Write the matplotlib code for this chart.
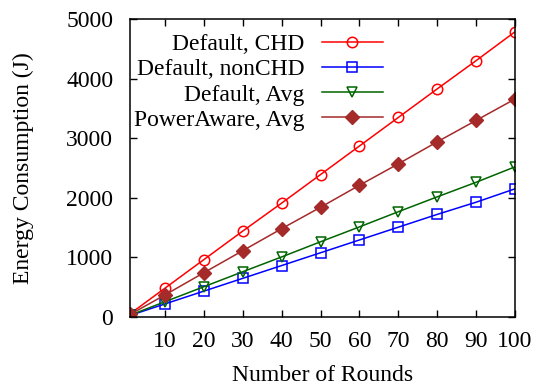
import numpy as np
import matplotlib.pyplot as plt

# Energy consumption vs number of rounds
rounds = [1, 10, 20, 30, 40, 50, 60, 70, 80, 90, 100]
chd = [48, 480, 960, 1440, 1910, 2390, 2870, 3350, 3830, 4305, 4790]
non_chd = [21, 215, 430, 645, 860, 1075, 1290, 1505, 1720, 1925, 2150]
avg = [25, 252, 504, 756, 1005, 1260, 1510, 1765, 2015, 2260, 2520]
power_aware = [37, 366, 740, 1110, 1480, 1840, 2210, 2570, 2940, 3300, 3660]

xticks = [10, 20, 30, 40, 50, 60, 70, 80, 90, 100]
yticks = [0, 1000, 2000, 3000, 4000, 5000]

plt.rcParams['font.family'] = ['Liberation Serif', 'DejaVu Serif']
plt.rcParams['font.size'] = 17

fig = plt.figure(figsize=(5.39, 3.87), dpi=100)
ax = fig.add_axes([130/539, 1-316.7/387, (515-130)/539, (316.7-19.3)/387])

ax.plot(rounds, chd, color='#ff0000', lw=1.1, marker='o', ms=7.5, mfc='none',
        mec='#ff0000', mew=1.1, label='Default, CHD')
ax.plot(rounds, non_chd, color='#0000ff', lw=1.1, marker='s', ms=7.5, mfc='none',
        mec='#0000ff', mew=1.1, label='Default, nonCHD')
ax.plot(rounds, avg, color='#006400', lw=1.1, marker='v', ms=7.5, mfc='none',
        mec='#006400', mew=1.1, label='Default, Avg')
ax.plot(rounds, power_aware, color='#a52a2a', lw=1.1, marker='D', ms=7.5,
        mfc='#a52a2a', mec='#a52a2a', label='PowerAware, Avg')

ax.set_xlim(1, 100)
ax.set_ylim(0, 5000)
ax.set_xticks(xticks)
ax.set_yticks(yticks)
ax.tick_params(direction='in', length=5, width=1, top=True, right=True)
ax.tick_params(axis='x', pad=10)
ax.tick_params(axis='y', pad=12)
for s in ax.spines.values():
    s.set_linewidth(1.1)

ax.set_xlabel('Number of Rounds', labelpad=10)
ax.set_ylabel('Energy Consumption (J)', labelpad=23)

ax.legend(loc='upper right', bbox_to_anchor=(0.657, 0.951), frameon=False,
          markerfirst=False, handlelength=2.6, handletextpad=0.72,
          labelspacing=0.15, borderpad=0, borderaxespad=0, fontsize=17)

fig.savefig('out.png', dpi=100)
